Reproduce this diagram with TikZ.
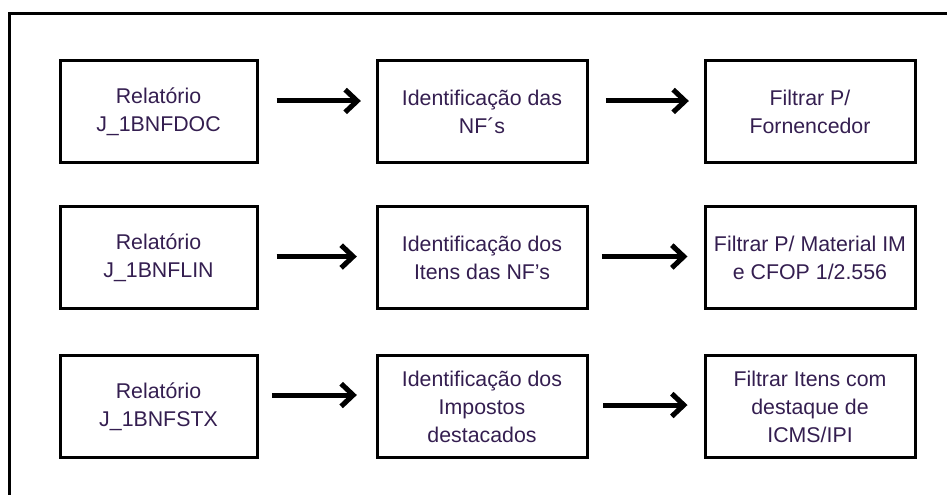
\documentclass[tikz,border=0pt]{standalone}
\usepackage{fontspec}
\setmainfont{Liberation Sans}
\usetikzlibrary{arrows.meta}
\definecolor{txt}{RGB}{52,30,80}
\tikzset{
  box/.style={draw=black, line width=2.25pt, minimum width=157.5pt, minimum height=76.5pt,
    inner sep=0pt, align=center, text=txt, font=\fontsize{16pt}{21pt}\selectfont},
  arr/.style={line width=3.75pt, -{Straight Barb[length=9pt, width=17pt, line width=3.8pt]}},
}
\begin{document}
\begin{tikzpicture}[x=0.75pt, y=-0.75pt]
\useasboundingbox (0,0) rectangle (947,495);
\draw[line width=2.25pt] (9,495) -- (9,14) -- (947,14);
% column 1
\node[box, minimum width=147.75pt] (a1) at (158.5,111.5) {Relatório\\J\_1BNFDOC};
\node[box, minimum width=147.75pt] (a2) at (158.5,258) {Relatório\\J\_1BNFLIN};
\node[box, minimum width=147.75pt] (a3) at (158.5,406.5) {Relatório\\J\_1BNFSTX};
% column 2
\node[box] (b1) at (482,111.5) {Identificação das\\NF´s};
\node[box] (b2) at (482,258) {Identificação dos\\Itens das NF’s};
\node[box] (b3) at (482,406.5) {Identificação dos\\Impostos\\destacados};
% column 3
\node[box] (c1) at (810,111.5) {Filtrar P/\\Fornencedor};
\node[box] (c2) at (810,258) {Filtrar P/ Material IM\\e CFOP 1/2.556};
\node[box] (c3) at (810,406.5) {Filtrar Itens com\\destaque de\\ICMS/IPI};
% arrows
\draw[arr, shorten <=13.5pt, shorten >=11pt] ([yshift=7.9pt]a1.east) -- ([yshift=7.9pt]b1.west);
\draw[arr, shorten <=13pt, shorten >=11pt] ([yshift=7.9pt]b1.east) -- ([yshift=7.9pt]c1.west);
\draw[arr, shorten <=13.5pt, shorten >=14pt] ([yshift=1.1pt]a2.east) -- ([yshift=1.1pt]b2.west);
\draw[arr, shorten <=10pt, shorten >=12pt] ([yshift=1.1pt]b2.east) -- ([yshift=1.1pt]c2.west);
\draw[arr, shorten <=10pt, shorten >=14pt] ([yshift=8.6pt]a3.east) -- ([yshift=8.6pt]b3.west);
\draw[arr, shorten <=11pt, shorten >=12pt] ([yshift=1.1pt]b3.east) -- ([yshift=1.1pt]c3.west);
\end{tikzpicture}
\end{document}
